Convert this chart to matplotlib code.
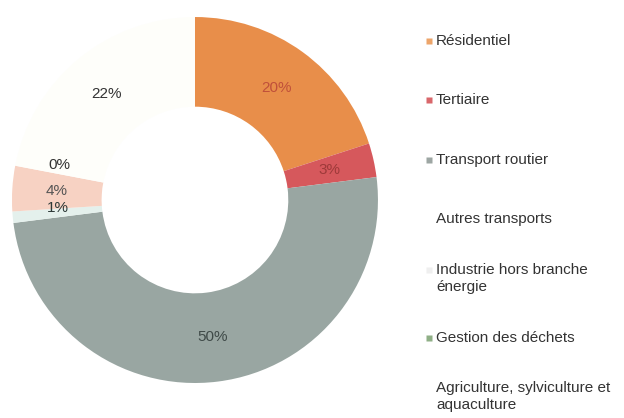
import numpy as np
import matplotlib.pyplot as plt
from matplotlib.lines import Line2D

plt.rcParams['font.family'] = ['Liberation Sans', 'DejaVu Sans']

# Data
sectors = ['Résidentiel', 'Tertiaire', 'Transport routier', 'Autres transports',
           'Industrie hors branche\nénergie', 'Gestion des déchets',
           'Agriculture, sylviculture et\naquaculture']
shares = [20, 3, 50, 1, 4, 0, 22]
pct_labels = ['20%', '3%', '50%', '1%', '4%', '0%', '22%']
colors = ['#E88E4A', '#D6585C', '#99A6A2', '#E4F0EC', '#F7D2C3', '#8FAF86', '#FEFEFA']
legend_colors = ['#EDA56A', '#D9676B', '#9DA6A3', '#FFFFFF', '#EFEFEF', '#8FAF86', '#FFFFFF']
label_colors = ['#C0503A', '#9E3A3A', '#3F4A48', '#2E3A38', '#555555', '#333333', '#333333']
# small vertical nudges for the crowded labels on the left
label_nudge = [0, 0, 0, 0.025, 0, 0.05, 0]

fig = plt.figure(figsize=(6.24, 4.18), dpi=100)
ax = fig.add_axes([0.0192, 0.0837, 0.5865, 0.8756])

wedges, _ = ax.pie(shares, colors=colors, startangle=90, counterclock=False,
                   radius=1.0, wedgeprops=dict(width=0.49, edgecolor='none'))
ax.set_xlim(-1, 1)
ax.set_ylim(-1, 1)
ax.set_aspect('equal')
ax.axis('off')

# percentage labels at mid-ring
total = sum(shares)
cum = 0
for s, lab, col, dy in zip(shares, pct_labels, label_colors, label_nudge):
    mid = cum + s / 2
    cum += s
    ang = np.deg2rad(90 - 360 * mid / total)
    r = 0.755
    ax.text(r * np.cos(ang), r * np.sin(ang) + dy, lab, ha='center', va='center',
            fontsize=11, color=col)

# legend drawn by hand to mimic the layout
line_h = 17 / 418
for i, (name, c) in enumerate(zip(sectors, legend_colors)):
    yc = 1 - (41 + i * 59.3) / 418
    n = name.count('\n') + 1
    fig.text(436 / 624, yc, name, ha='left', va='center', fontsize=11,
             color='#333333', linespacing=1.25)
    y_first = yc + (n - 1) * line_h / 2
    fig.add_artist(Line2D([429 / 624], [y_first], marker='s', markersize=4.5,
                          color=c, markeredgecolor='none', transform=fig.transFigure))

fig.savefig('out.png', dpi=100)
